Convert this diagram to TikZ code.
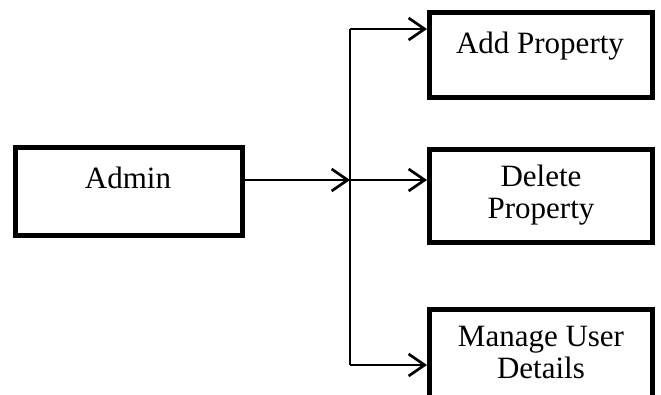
\documentclass[tikz,border=0pt]{standalone}
\usepackage{fontspec}
\setmainfont{Liberation Serif}
\usetikzlibrary{arrows.meta}
\begin{document}
\begin{tikzpicture}[x=1pt,y=-1pt,
  box/.style={draw=black,line width=5pt,minimum width=223pt,inner sep=0pt},
  lbl/.style={font=\fontsize{31}{32}\selectfont,align=center,inner sep=0pt},
  link/.style={line width=2.7pt},
  arr/.style={link,-{Straight Barb[length=16pt,width=22pt,line width=2.7pt]}}]
\useasboundingbox (0,0) rectangle (661,394);
% boxes
\node[box,minimum width=227pt,minimum height=88pt] (admin) at (129,191.5) {};
\node[box,minimum height=85pt] (add) at (541,55) {};
\node[box,minimum height=93pt] (del) at (541,196) {};
\node[box,minimum height=120pt] (man) at (541,369.5) {};
% labels
\node[lbl,anchor=base] (tadmin) at (128,188) {Admin};
\node[lbl,anchor=base] (tadd) at (540,53) {Add Property};
\node[lbl,anchor=north] (tdel) at (541,165) {Delete\\Property};
\node[lbl,anchor=north] (tman) at (541,326) {Manage User\\Details};
% connector spine
\coordinate (jt) at (350,29);
\coordinate (jm) at (350,180);
\coordinate (jb) at (350,365);
\draw[link] (jt) -- (jb);
\draw[arr] (admin.east |- jm) -- (jm);
\draw[arr] (jt) -- (add.west |- jt);
\draw[arr] (jm) -- (del.west |- jm);
\draw[arr] (jb) -- (man.west |- jb);
\end{tikzpicture}
\end{document}
